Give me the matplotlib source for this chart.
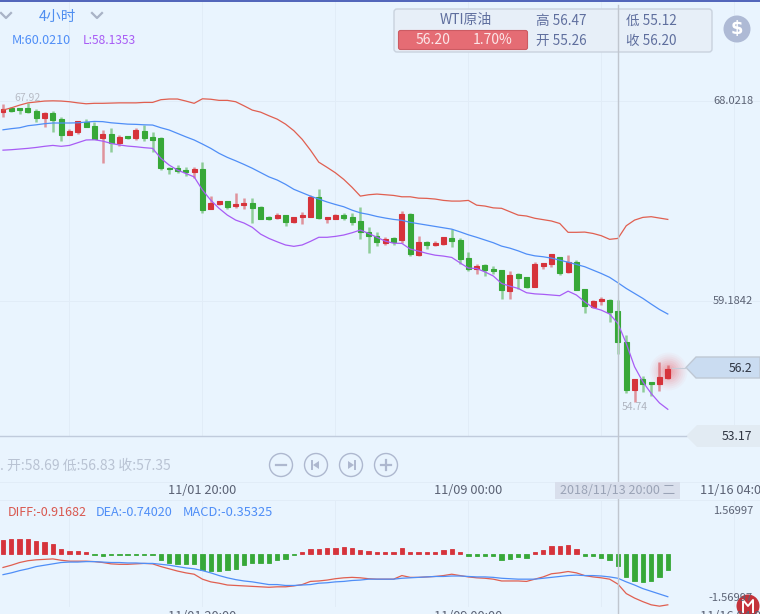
import matplotlib
matplotlib.use('Agg')
import matplotlib.pyplot as plt
from matplotlib.patches import Circle, FancyBboxPatch, Polygon, Rectangle
import numpy as np

plt.rcParams['font.family'] = ['Noto Sans CJK SC', 'DejaVu Sans']

# 4h candles, oldest first
opens = [67.53, 67.71, 67.71, 67.71, 67.58, 67.27, 67.49, 67.22, 66.52, 66.65,
         67.09, 66.92, 66.38, 66.56, 66.16, 66.47, 66.38, 66.69, 66.43, 66.38,
         65.06, 65.06, 64.97, 64.88, 65.01, 63.25, 63.47, 63.60, 63.38, 63.42,
         63.51, 63.33, 62.89, 62.85, 62.98, 62.67, 62.89, 62.89, 63.78, 62.80,
         62.80, 62.98, 62.89, 62.72, 62.23, 62.05, 61.74, 61.97, 61.88, 63.03,
         61.21, 61.79, 61.66, 61.70, 61.97, 61.88, 61.08, 60.60, 60.77, 60.60,
         60.55, 59.62, 60.38, 60.24, 59.80, 60.73, 60.82, 61.12, 60.46, 60.90,
         59.71, 58.91, 59.18, 59.22, 58.74, 57.37, 55.25, 55.73, 55.60, 55.51,
         55.78]
closes = [67.67, 67.58, 67.62, 67.53, 67.27, 67.49, 67.18, 66.52, 66.69, 67.14,
          66.87, 66.34, 66.56, 66.16, 66.43, 66.38, 66.74, 66.38, 66.30, 65.06,
          65.01, 64.93, 64.88, 65.01, 63.20, 63.51, 63.60, 63.33, 63.47, 63.51,
          63.29, 62.80, 62.80, 62.98, 62.67, 62.89, 62.98, 63.78, 62.85, 62.89,
          62.98, 62.85, 62.67, 62.23, 62.05, 61.79, 61.92, 61.79, 63.03, 61.26,
          61.79, 61.66, 61.74, 62.01, 61.83, 61.04, 60.60, 60.73, 60.55, 60.51,
          59.67, 60.33, 60.20, 59.80, 60.82, 60.86, 61.26, 60.42, 60.90, 59.67,
          58.96, 59.18, 59.27, 58.69, 57.37, 55.25, 55.73, 55.51, 55.51, 55.82,
          56.20]
highs = [67.89, 67.75, 67.71, 67.93, 67.67, 67.53, 67.58, 67.31, 66.78, 67.14,
         67.22, 67.09, 66.74, 66.83, 66.52, 66.47, 66.83, 66.96, 66.65, 66.43,
         65.10, 65.19, 65.10, 65.10, 65.32, 63.82, 63.60, 63.60, 63.95, 63.73,
         63.73, 63.38, 62.94, 63.07, 62.98, 62.89, 63.11, 63.87, 64.13, 62.89,
         63.03, 63.07, 63.07, 63.33, 62.45, 62.23, 62.01, 62.01, 63.16, 63.07,
         62.05, 61.83, 61.83, 62.01, 62.36, 61.97, 61.35, 60.82, 60.82, 60.73,
         60.55, 60.51, 60.42, 60.24, 60.90, 60.86, 61.26, 61.12, 61.21, 60.99,
         59.71, 59.22, 59.36, 59.27, 59.22, 57.68, 55.73, 55.86, 55.60, 56.48,
         56.36]
lows = [67.31, 67.53, 67.45, 67.49, 67.09, 66.87, 66.65, 66.25, 66.52, 66.56,
        66.87, 66.34, 65.28, 65.77, 66.03, 66.34, 66.30, 66.25, 65.77, 64.97,
        64.79, 64.84, 64.71, 64.62, 63.07, 63.25, 63.42, 63.25, 63.29, 63.25,
        62.63, 62.80, 62.76, 62.80, 62.49, 62.63, 62.58, 62.89, 62.80, 62.63,
        62.80, 62.76, 62.54, 61.92, 61.30, 61.61, 61.66, 61.66, 61.74, 61.17,
        61.17, 61.48, 61.61, 61.66, 61.57, 60.82, 60.51, 60.38, 60.29, 60.38,
        59.27, 59.27, 59.71, 59.75, 59.80, 60.60, 60.68, 60.33, 60.42, 59.67,
        58.65, 58.87, 59.00, 58.25, 56.84, 55.12, 54.74, 55.16, 54.99, 55.20,
        55.73]

# bollinger style bands
band_upper = [67.62, 67.72, 67.84, 67.94, 67.98, 68.02, 68.03, 68.02, 67.99, 67.94,
              67.90, 67.92, 67.92, 67.93, 67.94, 67.94, 67.94, 67.96, 67.96, 68.08,
              68.11, 68.11, 68.02, 67.92, 68.12, 68.10, 68.05, 68.05, 67.99, 67.81,
              67.62, 67.53, 67.37, 67.22, 67.00, 66.71, 66.33, 65.85, 65.32, 65.09,
              64.85, 64.56, 64.21, 63.82, 63.88, 63.91, 63.88, 63.85, 63.79, 63.79,
              63.73, 63.72, 63.69, 63.63, 63.60, 63.60, 63.63, 63.42, 63.38, 63.30,
              63.28, 63.13, 62.98, 62.94, 62.84, 62.78, 62.72, 62.61, 62.22, 62.22,
              62.23, 62.17, 62.07, 61.91, 61.95, 62.51, 62.76, 62.88, 62.91, 62.85,
              62.79]
band_mid = [66.75, 66.80, 66.84, 66.93, 66.97, 67.02, 67.05, 67.05, 67.05, 67.06,
            67.09, 67.12, 67.11, 67.06, 67.03, 67.00, 66.99, 66.97, 66.96, 66.84,
            66.74, 66.59, 66.44, 66.30, 66.12, 65.93, 65.71, 65.53, 65.38, 65.22,
            65.05, 64.86, 64.67, 64.53, 64.34, 64.12, 63.97, 63.82, 63.69, 63.56,
            63.45, 63.35, 63.20, 63.08, 63.01, 62.92, 62.85, 62.79, 62.75, 62.66,
            62.60, 62.54, 62.48, 62.42, 62.36, 62.24, 62.11, 62.00, 61.88, 61.76,
            61.61, 61.52, 61.40, 61.26, 61.18, 61.14, 61.08, 60.99, 60.90, 60.80,
            60.70, 60.55, 60.40, 60.23, 59.99, 59.74, 59.52, 59.30, 59.05, 58.81,
            58.61]
band_lower = [65.85, 65.87, 65.90, 65.93, 65.97, 66.02, 66.06, 66.02, 66.06, 66.18,
              66.30, 66.31, 66.25, 66.15, 66.08, 66.03, 66.00, 65.96, 65.93, 65.49,
              65.19, 64.97, 64.82, 64.67, 64.09, 63.64, 63.28, 62.98, 62.76, 62.63,
              62.44, 62.14, 61.95, 61.80, 61.66, 61.60, 61.66, 61.82, 62.00, 62.00,
              62.04, 62.10, 62.20, 62.32, 62.17, 62.00, 61.83, 61.74, 61.73, 61.48,
              61.39, 61.29, 61.21, 61.17, 61.11, 60.87, 60.64, 60.62, 60.47, 60.29,
              59.96, 59.84, 59.74, 59.55, 59.50, 59.48, 59.45, 59.42, 59.62, 59.45,
              59.15, 58.89, 58.78, 58.61, 58.19, 57.31, 56.28, 55.61, 55.10, 54.68,
              54.40]

# macd panel
macd_bars = [0.31, 0.33, 0.33, 0.33, 0.29, 0.27, 0.22, 0.11, 0.07, 0.07,
             0.04, -0.03, -0.05, -0.03, -0.03, -0.03, -0.03, -0.03, -0.03, -0.13,
             -0.20, -0.22, -0.22, -0.22, -0.36, -0.38, -0.38, -0.36, -0.33, -0.24,
             -0.20, -0.20, -0.19, -0.13, -0.11, -0.03, 0.04, 0.11, 0.11, 0.13,
             0.13, 0.16, 0.13, 0.09, 0.07, 0.04, 0.04, 0.04, 0.13, 0.04,
             0.04, 0.04, 0.04, 0.08, 0.11, 0.04, -0.04, -0.04, -0.05, -0.05,
             -0.13, -0.11, -0.07, -0.09, 0.04, 0.09, 0.18, 0.18, 0.20, 0.11,
             -0.04, -0.05, -0.08, -0.13, -0.27, -0.51, -0.60, -0.62, -0.60, -0.51,
             -0.36]
diff_line = [-0.09, -0.04, 0.02, 0.06, 0.08, 0.09, 0.10, 0.07, 0.05, 0.05,
             0.05, 0.04, 0.02, -0.01, -0.02, -0.02, -0.01, 0.00, -0.01, -0.07,
             -0.12, -0.17, -0.21, -0.24, -0.35, -0.41, -0.44, -0.48, -0.49, -0.50,
             -0.51, -0.52, -0.53, -0.52, -0.52, -0.50, -0.47, -0.40, -0.39, -0.37,
             -0.34, -0.32, -0.31, -0.32, -0.34, -0.35, -0.35, -0.35, -0.27, -0.31,
             -0.31, -0.30, -0.29, -0.27, -0.24, -0.27, -0.30, -0.32, -0.33, -0.35,
             -0.39, -0.39, -0.39, -0.40, -0.35, -0.30, -0.23, -0.21, -0.18, -0.21,
             -0.27, -0.30, -0.32, -0.35, -0.46, -0.67, -0.77, -0.85, -0.92, -0.95,
             -0.92]
dea_line = [-0.25, -0.21, -0.16, -0.12, -0.07, -0.04, -0.01, 0.02, 0.03, 0.03,
            0.04, 0.04, 0.03, 0.02, 0.02, 0.01, 0.01, 0.00, 0.00, -0.02,
            -0.04, -0.07, -0.10, -0.12, -0.16, -0.21, -0.27, -0.32, -0.36, -0.39,
            -0.41, -0.44, -0.47, -0.47, -0.49, -0.49, -0.48, -0.47, -0.44, -0.43,
            -0.41, -0.40, -0.38, -0.37, -0.35, -0.35, -0.35, -0.35, -0.33, -0.32,
            -0.31, -0.30, -0.29, -0.29, -0.28, -0.28, -0.29, -0.30, -0.30, -0.31,
            -0.33, -0.34, -0.35, -0.35, -0.35, -0.33, -0.31, -0.29, -0.27, -0.26,
            -0.27, -0.27, -0.28, -0.30, -0.33, -0.41, -0.48, -0.56, -0.62, -0.68,
            -0.74]

grid_idx = [8, 24, 40, 56, 72, 88]
date_ticks = [(24, '11/01 20:00'), (56, '11/09 00:00'), (88, '11/16 04:00')]
price_ticks = [68.0218, 59.1842]
cursor_idx = 74

BG = '#e9f4fe'
RED = '#d6333b'
GREEN = '#37a838'
TXT = '#5b6274'
HEAD = '#5f6f9e'
GRID = '#e1ecf7'
W, H = 760, 614
X0, STEP = 3.0, 8.31  # pixel of first candle, pixels per candle
xlim = (-X0 / STEP, (W - X0) / STEP)


def px(i):
    return X0 + STEP * i


fig = plt.figure(figsize=(W / 100, H / 100), dpi=100, facecolor=BG)

# main price panel, top 436 px
ax = fig.add_axes([0, 1 - 436 / H, 1, 436 / H])
ax.set_xlim(*xlim)
ax.set_ylim(53.22, 72.485)
ax.axis('off')

for g in grid_idx:
    ax.axvline(g, color=GRID, lw=0.7, zorder=1)
for p in price_ticks:
    ax.axhline(p, color=GRID, lw=0.7, zorder=1)

xs = np.arange(len(closes))
o, c, hi, lo = map(np.array, (opens, closes, highs, lows))
colors = [RED if c[i] >= o[i] else GREEN for i in xs]

# glow behind the last candle
for r, a in zip(np.arange(19, 2, -2), [0.03, 0.04, 0.05, 0.06, 0.07, 0.08, 0.09, 0.1, 0.1]):
    ax.scatter([xs[-1]], [c[-1] - 0.1], s=(r * 1.44) ** 2, color='#f4545c', alpha=a, lw=0, zorder=2)

ax.vlines(xs, lo, hi, colors=colors, lw=1.8, alpha=0.5, zorder=3)
ax.bar(xs, c - o, bottom=o, width=0.6, color=colors, edgecolor=colors, lw=0.8, zorder=4)

ax.plot(xs, band_upper, color='#e05f50', lw=0.9, zorder=5)
ax.plot(xs, band_mid, color='#4f8ef7', lw=0.9, zorder=5)
ax.plot(xs, band_lower, color='#a85cf5', lw=0.9, zorder=5)

ax.text(3, 67.92, '67.92', color='#b8bcc6', fontsize=7.5, ha='center', va='bottom')
ax.text(76, 54.74, '54.74', color='#b0b5c0', fontsize=7.5, ha='center', va='top')

# macd panel, histogram and lines have different zero levels
ax_bar = fig.add_axes([0, 0, 1, 114 / H])
ax_bar.set_xlim(*xlim)
ax_bar.set_ylim(-1.333, 1.2)
ax_bar.axis('off')
for g in grid_idx:
    ax_bar.axvline(g, ymin=0.07, color=GRID, lw=0.7, zorder=1)
bar_colors = [RED if v > 0 else GREEN for v in macd_bars]
ax_bar.bar(xs, macd_bars, width=0.52, color=bar_colors, edgecolor=bar_colors, lw=0.6, zorder=3)

ax_line = fig.add_axes([0, 0, 1, 114 / H])
ax_line.set_xlim(*xlim)
ax_line.set_ylim(-1.124, 1.409)
ax_line.axis('off')
ax_line.plot(xs, diff_line, color='#e05f50', lw=0.9)
ax_line.plot(xs, dea_line, color='#4f8ef7', lw=0.9)

# everything around the plots, in pixel coordinates
ui = fig.add_axes([0, 0, 1, 1])
ui.set_xlim(0, W)
ui.set_ylim(H, 0)
ui.axis('off')
ui.patch.set_alpha(0)

ui.add_patch(Rectangle((0, 0), W, 2, color='#5367bb', lw=0))
ui.plot([0, 686], [435.5, 435.5], color='#c0cbdc', lw=1)
ui.plot([0, 760], [481.5, 481.5], color=GRID, lw=0.7)
ui.plot([0, 760], [499.5, 499.5], color=GRID, lw=0.7)

# header box
ui.add_patch(FancyBboxPatch((394, 9), 318, 43, boxstyle='round,pad=0,rounding_size=3',
                            fc='#e7eff8', ec='#c9d2de', lw=1))
ui.add_patch(FancyBboxPatch((398.5, 30.5), 129, 19, boxstyle='round,pad=0,rounding_size=2',
                            fc='#e56c74', ec='#cc5b63', lw=0.8))
ui.text(466, 20, 'WTI原油', color=HEAD, fontsize=10, ha='center', va='center')
ui.text(433, 40.5, '56.20', color='#fbe6e8', fontsize=10, ha='center', va='center')
ui.text(493, 40.5, '1.70%', color='#fbe6e8', fontsize=10, ha='center', va='center')
for x, y, s in [(536, 21, '高 56.47'), (536, 41, '开 55.26'), (626, 21, '低 55.12'), (626, 41, '收 56.20')]:
    ui.text(x, y, s, color=HEAD, fontsize=9.8, ha='left', va='center')

ui.add_patch(Circle((737, 29), 13.5, fc='#aebad5', ec='none'))
ui.text(737, 29, '$', color='white', fontsize=13, fontweight='bold', ha='center', va='center',
        family='DejaVu Sans')

# top left selector
for cx in (6, 97):
    ui.plot([cx - 5, cx, cx + 5], [13, 18, 13], color='#a9b3c6', lw=1.6)
ui.text(39, 17, '4小时', color='#4f8ef0', fontsize=10.5, ha='left', va='center')
ui.text(12, 40.5, 'M:60.0210', color='#4f8ef7', fontsize=9.1, ha='left', va='center')
ui.text(83, 40.5, 'L:58.1353', color='#a85cf5', fontsize=8.7, ha='left', va='center')

# price axis labels and current value arrows
ui.text(753, 101, '68.0218', color=TXT, fontsize=8, ha='right', va='center')
ui.text(753, 301, '59.1842', color=TXT, fontsize=8, ha='right', va='center')
ui.plot([672, 686], [367.5, 367.5], color='#c6cdd8', lw=0.8)
ui.add_patch(Polygon([(686, 367.5), (696, 357), (760, 357), (760, 378), (696, 378)],
                     fc='#cadcf1', ec='#bfc8d4', lw=1))
ui.text(752, 368, '56.2', color='#2f3542', fontsize=8.8, ha='right', va='center')
ui.add_patch(Polygon([(686, 436), (697, 425), (760, 425), (760, 447), (697, 447)],
                     fc='#e2ebf3', ec='none'))
ui.text(752, 436, '53.17', color='#2f3542', fontsize=8.8, ha='right', va='center')

# cursor line and date labels
ui.plot([px(cursor_idx)] * 2, [5, H], color='#c0c6cf', lw=1)
ui.add_patch(Rectangle((555, 482), 125, 17, fc='#d9dfec', ec='none', zorder=3))
ui.text(617.5, 491, '2018/11/13 20:00 二', color='#9aa3b6', fontsize=9, ha='center', va='center', zorder=4)
for idx, lab in date_ticks:
    ui.text(px(idx), 491, lab, color=TXT, fontsize=9.2, ha='center', va='center')
    ui.text(px(idx), 617, lab, color=TXT, fontsize=9.2, ha='center', va='center', clip_on=False)

ui.text(0, 466, '.', color='#b9c3d3', fontsize=10, ha='left', va='center')
ui.text(7, 466, '开:58.69 低:56.83 收:57.35', color='#b9c3d3', fontsize=10, ha='left', va='center')

# zoom and pan buttons
BTN = '#aeb8cf'
for cx in (281, 316, 351, 386):
    ui.add_patch(Circle((cx, 465), 11.5, fc='none', ec=BTN, lw=1))
ui.plot([276, 286], [465, 465], color=BTN, lw=1.6)
ui.plot([381, 391], [465, 465], color=BTN, lw=1.6)
ui.plot([386, 386], [460, 470], color=BTN, lw=1.6)
ui.plot([312, 312], [461, 469], color=BTN, lw=1.4)
ui.add_patch(Polygon([(313, 465), (319, 461), (319, 469)], fc=BTN, ec='none'))
ui.plot([355, 355], [461, 469], color=BTN, lw=1.4)
ui.add_patch(Polygon([(354, 465), (348, 461), (348, 469)], fc=BTN, ec='none'))

# macd labels
ui.text(8, 513, 'DIFF:-0.91682', color='#d9584f', fontsize=9, ha='left', va='center')
ui.text(96, 513, 'DEA:-0.74020', color='#4f8ef7', fontsize=9.1, ha='left', va='center')
ui.text(183, 513, 'MACD:-0.35325', color='#4f8ef7', fontsize=9.3, ha='left', va='center')
ui.text(753, 510.5, '1.56997', color=TXT, fontsize=8, ha='right', va='center')
ui.text(753, 598, '-1.56997', color=TXT, fontsize=8, ha='right', va='center')

# corner logo
ui.add_patch(Circle((748, 606), 11.5, fc='#c4323a', ec='none'))
ui.plot([743, 743, 748, 753, 753], [612, 600, 606, 600, 612], color='white', lw=1.4)

fig.savefig('out.png', dpi=100, facecolor=BG)
plt.close(fig)
